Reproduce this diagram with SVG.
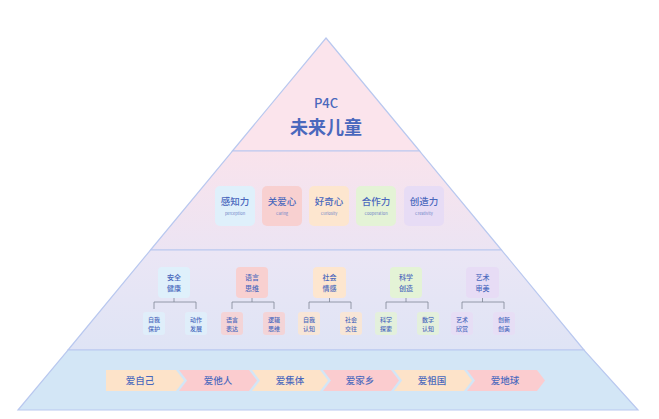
<svg xmlns="http://www.w3.org/2000/svg" width="659" height="419" viewBox="0 0 659 419">
<defs>
<linearGradient id="g2" x1="0" y1="0" x2="0" y2="1"><stop offset="0" stop-color="#f9e3ec"/><stop offset="1" stop-color="#ece4f3"/></linearGradient>
<linearGradient id="g3" x1="0" y1="0" x2="0" y2="1"><stop offset="0" stop-color="#ebe6f5"/><stop offset="1" stop-color="#dfe4f5"/></linearGradient>
</defs>
<style>
text{font-family:"Noto Sans CJK SC","Noto Sans",sans-serif;fill:#4a68bd;text-anchor:middle;font-weight:500}
.band{stroke:#b9c8ef;stroke-width:1.2}
.m{font-size:9.5px}
.e{font-size:4px;fill:#6f84c8;font-weight:400}
.s{font-size:7px}
.ln{stroke:#7d8594;stroke-width:0.8;fill:none}
.b{fill:#dff0fb}.r{fill:#f8d0d0}.p{fill:#fde6cf}.g{fill:#e4f3d6}.v{fill:#e7dcf5}
</style>
<rect width="659" height="419" fill="#ffffff"/>
<g id="pyramid">
<polygon class="band" points="326,38 419.6,151 232.4,151" fill="#fbe4ec"/>
<polygon class="band" points="232.4,151 419.6,151 501.5,250 150.5,250" fill="url(#g2)"/>
<polygon class="band" points="150.5,250 501.5,250 584,350 68,350" fill="url(#g3)"/>
<polygon class="band" points="68,350 584,350 638,410 18,410" fill="#d3e6f6"/>
<text x="326" y="108" style="font-size:13px">P4C</text>
<text x="326" y="134" style="font-size:18px;font-weight:700">未来儿童</text>
</g>
<g id="values">
<g id="v1"><rect class="b" x="215" y="186" width="40" height="40" rx="5"/><text class="m" x="235" y="205">感知力</text><text class="e" x="235" y="215">perception</text></g>
<g id="v2"><rect class="r" x="262" y="186" width="40" height="40" rx="5"/><text class="m" x="282" y="205">关爱心</text><text class="e" x="282" y="215">Caring</text></g>
<g id="v3"><rect class="p" x="309" y="186" width="40" height="40" rx="5"/><text class="m" x="329" y="205">好奇心</text><text class="e" x="329" y="215">Curiosity</text></g>
<g id="v4"><rect class="g" x="356" y="186" width="40" height="40" rx="5"/><text class="m" x="376" y="205">合作力</text><text class="e" x="376" y="215">Cooperation</text></g>
<g id="v5"><rect class="v" x="404" y="186" width="40" height="40" rx="5"/><text class="m" x="424" y="205">创造力</text><text class="e" x="424" y="215">Creativity</text></g>
</g>
<g id="connectors">
<path class="ln" d="M174,298V302M154,309V302H196V309"/>
<path class="ln" d="M252,298V302M232,309V302H274V309"/>
<path class="ln" d="M329.5,298V302M309,309V302H351V309"/>
<path class="ln" d="M406,298V302M386,309V302H428V309"/>
<path class="ln" d="M482.5,298V302M462,309V302H504V309"/>
</g>
<g id="domains">
<g id="d1"><rect class="b" x="158" y="267" width="32" height="31" rx="4"/><text class="s" x="174" y="280">安全</text><text class="s" x="174" y="291">健康</text>
<rect class="b" x="143" y="312" width="22" height="23" rx="3" opacity="0.8"/><text class="s" x="154" y="322" style="font-size:6px">自我</text><text class="s" x="154" y="331" style="font-size:6px">保护</text>
<rect class="b" x="185" y="312" width="22" height="23" rx="3" opacity="0.8"/><text class="s" x="196" y="322" style="font-size:6px">动作</text><text class="s" x="196" y="331" style="font-size:6px">发展</text></g>
<g id="d2"><rect class="r" x="236" y="267" width="32" height="31" rx="4"/><text class="s" x="252" y="280">语言</text><text class="s" x="252" y="291">思维</text>
<rect class="r" x="221" y="312" width="22" height="23" rx="3" opacity="0.8"/><text class="s" x="232" y="322" style="font-size:6px">语言</text><text class="s" x="232" y="331" style="font-size:6px">表达</text>
<rect class="r" x="263" y="312" width="22" height="23" rx="3" opacity="0.8"/><text class="s" x="274" y="322" style="font-size:6px">逻辑</text><text class="s" x="274" y="331" style="font-size:6px">思维</text></g>
<g id="d3"><rect class="p" x="313" y="267" width="33" height="31" rx="4"/><text class="s" x="329.5" y="280">社会</text><text class="s" x="329.5" y="291">情感</text>
<rect class="p" x="298" y="312" width="22" height="23" rx="3" opacity="0.8"/><text class="s" x="309" y="322" style="font-size:6px">自我</text><text class="s" x="309" y="331" style="font-size:6px">认知</text>
<rect class="p" x="340" y="312" width="22" height="23" rx="3" opacity="0.8"/><text class="s" x="351" y="322" style="font-size:6px">社会</text><text class="s" x="351" y="331" style="font-size:6px">交往</text></g>
<g id="d4"><rect class="g" x="390" y="267" width="32" height="31" rx="4"/><text class="s" x="406" y="280">科学</text><text class="s" x="406" y="291">创造</text>
<rect class="g" x="375" y="312" width="22" height="23" rx="3" opacity="0.8"/><text class="s" x="386" y="322" style="font-size:6px">科学</text><text class="s" x="386" y="331" style="font-size:6px">探索</text>
<rect class="g" x="417" y="312" width="22" height="23" rx="3" opacity="0.8"/><text class="s" x="428" y="322" style="font-size:6px">数学</text><text class="s" x="428" y="331" style="font-size:6px">认知</text></g>
<g id="d5"><rect class="v" x="466" y="267" width="33" height="31" rx="4"/><text class="s" x="482.5" y="280">艺术</text><text class="s" x="482.5" y="291">审美</text>
<rect class="v" x="451" y="312" width="22" height="23" rx="3" opacity="0.8"/><text class="s" x="462" y="322" style="font-size:6px">艺术</text><text class="s" x="462" y="331" style="font-size:6px">欣赏</text>
<rect class="v" x="493" y="312" width="22" height="23" rx="3" opacity="0.8"/><text class="s" x="504" y="322" style="font-size:6px">创新</text><text class="s" x="504" y="331" style="font-size:6px">创美</text></g>
</g>
<g id="loves">
<g id="l1"><polygon fill="#fde3c9" points="106,370 176,370 184,380.5 176,391 106,391"/><text class="m" x="140" y="384">爱自己</text></g>
<g id="l2"><polygon fill="#fbcccf" points="179,370 249,370 257,380.5 249,391 179,391 187,380.5"/><text class="m" x="218" y="384">爱他人</text></g>
<g id="l3"><polygon fill="#fde3c9" points="252,370 320,370 328,380.5 320,391 252,391 260,380.5"/><text class="m" x="290" y="384">爱集体</text></g>
<g id="l4"><polygon fill="#fbcccf" points="323,370 391,370 399,380.5 391,391 323,391 331,380.5"/><text class="m" x="360" y="384">爱家乡</text></g>
<g id="l5"><polygon fill="#fde3c9" points="394,370 464,370 472,380.5 464,391 394,391 402,380.5"/><text class="m" x="432" y="384">爱祖国</text></g>
<g id="l6"><polygon fill="#fbcccf" points="467,370 537,370 545,380.5 537,391 467,391 475,380.5"/><text class="m" x="505" y="384">爱地球</text></g>
</g>
</svg>
